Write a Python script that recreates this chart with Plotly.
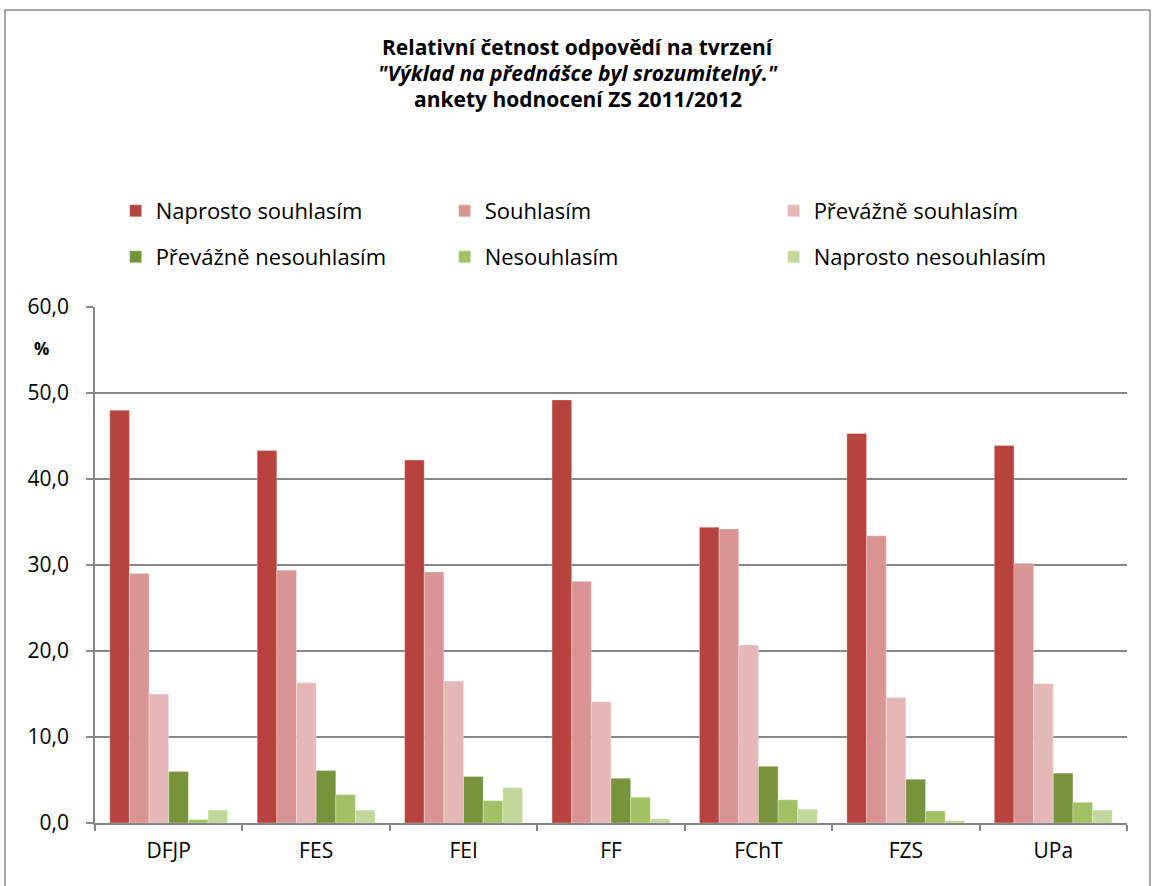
import plotly.graph_objects as go

categories = ["DFJP", "FES", "FEI", "FF", "FChT", "FZS", "UPa"]
series_names = ["Naprosto souhlasím", "Souhlasím", "Převážně souhlasím",
                "Převážně nesouhlasím", "Nesouhlasím", "Naprosto nesouhlasím"]
naprosto_souhlasim = [48.0, 43.3, 42.2, 49.2, 34.4, 45.3, 43.9]
souhlasim = [29.0, 29.4, 29.2, 28.1, 34.2, 33.4, 30.2]
prevazne_souhlasim = [15.0, 16.3, 16.5, 14.1, 20.7, 14.6, 16.2]
prevazne_nesouhlasim = [6.0, 6.1, 5.4, 5.2, 6.6, 5.1, 5.8]
nesouhlasim = [0.4, 3.3, 2.6, 3.0, 2.7, 1.4, 2.4]
naprosto_nesouhlasim = [1.5, 1.5, 4.1, 0.5, 1.6, 0.3, 1.5]
y_ticks = [0, 10, 20, 30, 40, 50, 60]
title_lines = ["<b>Relativní četnost odpovědí na tvrzení</b>",
               "<b><i>\"Výklad na přednášce byl srozumitelný.\"</i></b>",
               "<b>ankety hodnocení ZS 2011/2012</b>"]

series_values = [naprosto_souhlasim, souhlasim, prevazne_souhlasim,
                 prevazne_nesouhlasim, nesouhlasim, naprosto_nesouhlasim]
colors = ["#B7433F", "#D99594", "#E5B8B7", "#77933C", "#A2C064", "#C4D79B"]
legend_ids = ["legend", "legend", "legend", "legend2", "legend2", "legend2"]

FONT = "'Open Sans', sans-serif"

fig = go.Figure()
for name, vals, col, lg in zip(series_names, series_values, colors, legend_ids):
    fig.add_trace(go.Bar(x=categories, y=vals, name=name, legend=lg,
                         marker=dict(color=col, line=dict(width=0.6, color="rgba(255,255,255,0.5)"))))

legend_common = dict(
    orientation="h", x=0.02, xanchor="left", yanchor="middle",
    entrywidth=284, entrywidthmode="pixels",
    font=dict(family=FONT, size=22, color="black"),
    traceorder="normal", itemwidth=30, bgcolor="rgba(0,0,0,0)",
)

annotations = [dict(text="<b>%</b>", xref="paper", yref="paper", x=-0.0514, y=0.9205,
                    xanchor="center", yanchor="middle", showarrow=False,
                    font=dict(family=FONT, size=17, color="black"))]
for line, ypos in zip(title_lines, [1.5039, 1.4535, 1.4031]):
    annotations.append(dict(text=line, xref="paper", yref="paper", x=0.468, y=ypos,
                            xanchor="center", yanchor="middle", showarrow=False,
                            font=dict(family=FONT, size=21, color="black")))

fig.update_layout(
    width=1154, height=886,
    paper_bgcolor="white", plot_bgcolor="white",
    separators=", ",
    barmode="group", bargap=0.2, bargroupgap=0,
    margin=dict(l=95, r=27, t=307, b=63),
    font=dict(family=FONT, color="black"),
    legend=dict(y=1.186, **legend_common),
    legend2=dict(y=1.0969, **legend_common),
    xaxis=dict(
        showline=True, linecolor="#868686", linewidth=1.5,
        ticks="outside", tickson="boundaries", ticklen=6, tickcolor="#868686", tickwidth=1.5,
        tickfont=dict(family=FONT, size=21, color="black"),
        ticklabelstandoff=8,
        showgrid=False,
    ),
    yaxis=dict(
        range=[0, 60], tickvals=y_ticks, tickformat=".1f",
        showline=True, linecolor="#868686", linewidth=1.5,
        ticks="outside", ticklen=7, tickcolor="#868686", tickwidth=1.5,
        ticklabelstandoff=13,
        showgrid=True, gridcolor="#868686", gridwidth=1.5,
        tickfont=dict(family=FONT, size=21, color="black"),
        zeroline=False,
    ),
    shapes=[dict(type="rect", xref="paper", yref="paper",
                 x0=-0.0872, x1=1.0223, y0=-0.2, y1=1.5756,
                 line=dict(color="#8C8C8C", width=1.5), fillcolor="rgba(0,0,0,0)", layer="below")],
    annotations=annotations,
)

fig.write_html("out.html", config={"displayModeBar": False},
               post_script="document.body.style.margin='0px';")
